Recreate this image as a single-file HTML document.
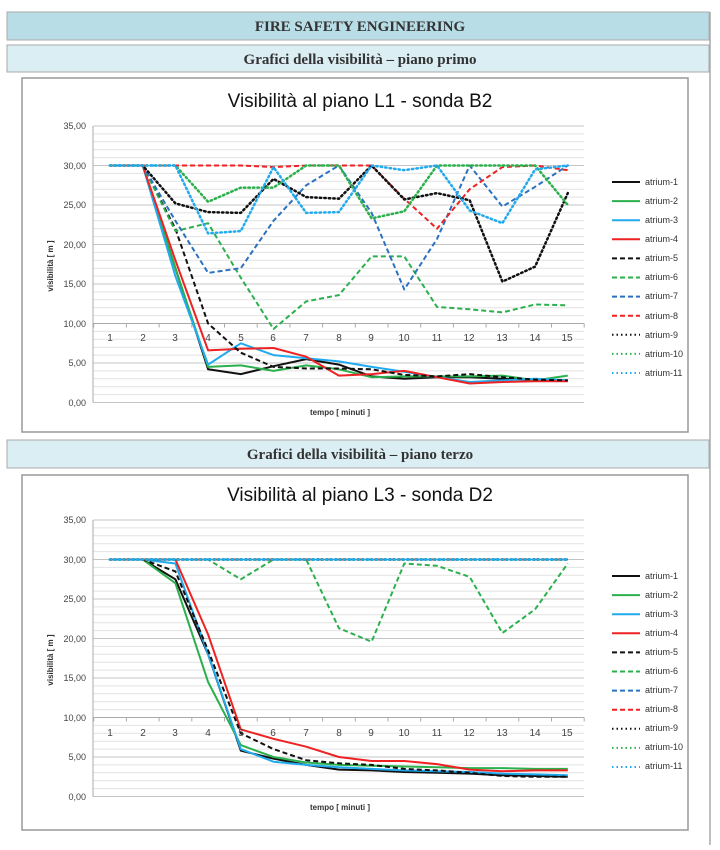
<!DOCTYPE html>
<html><head><meta charset="utf-8"><style>
body{margin:0;background:#fff;width:720px;height:845px;overflow:hidden}
svg text{font-family:"Liberation Sans",sans-serif}
</style></head><body>
<svg id="s" width="720" height="845" xmlns="http://www.w3.org/2000/svg">
<line x1="710" y1="12" x2="710" y2="845" stroke="#aaa" stroke-width="1.5"/>
<rect x="7" y="12" width="702" height="28" fill="#b8dde6" stroke="#aaa"/>
<text x="360" y="31" text-anchor="middle" font-family="Liberation Serif" font-weight="bold" font-size="15" fill="#333" style="font-family:'Liberation Serif',serif">FIRE SAFETY ENGINEERING</text>
<rect x="7" y="45" width="702" height="27" fill="#dbeef3" stroke="#aaa"/>
<text x="360" y="64" text-anchor="middle" font-weight="bold" font-size="15" fill="#333" style="font-family:'Liberation Serif',serif">Grafici della visibilità – piano primo</text>
<rect x="22" y="78" width="666" height="354" fill="#fff" stroke="#999" stroke-width="1.5"/>
<rect x="7" y="440" width="702" height="28" fill="#dbeef3" stroke="#aaa"/>
<text x="360" y="459" text-anchor="middle" font-weight="bold" font-size="15" fill="#333" style="font-family:'Liberation Serif',serif">Grafici della visibilità – piano terzo</text>
<rect x="22" y="475" width="666" height="355" fill="#fff" stroke="#999" stroke-width="1.5"/>
<text x="360" y="107" text-anchor="middle" font-size="19" fill="#111">Visibilità al piano L1 - sonda B2</text>
<text x="360" y="501" text-anchor="middle" font-size="19" fill="#111">Visibilità al piano L3 - sonda D2</text>
<g id="c1"></g><g id="c2"></g>
<g font-size="9" fill="#444" text-anchor="end">
<text x="86" y="129">35,00</text><text x="86" y="169">30,00</text><text x="86" y="208">25,00</text><text x="86" y="248">20,00</text><text x="86" y="287">15,00</text><text x="86" y="327">10,00</text><text x="86" y="366">5,00</text><text x="86" y="406">0,00</text>
<text x="86" y="523">35,00</text><text x="86" y="563">30,00</text><text x="86" y="602">25,00</text><text x="86" y="642">20,00</text><text x="86" y="681">15,00</text><text x="86" y="721">10,00</text><text x="86" y="760">5,00</text><text x="86" y="800">0,00</text>
</g>
<g font-size="10" fill="#444" text-anchor="middle">
<text x="110" y="341">1</text><text x="143" y="341">2</text><text x="175" y="341">3</text><text x="208" y="341">4</text><text x="241" y="341">5</text><text x="273" y="341">6</text><text x="306" y="341">7</text><text x="339" y="341">8</text><text x="371" y="341">9</text><text x="404" y="341">10</text><text x="437" y="341">11</text><text x="469" y="341">12</text><text x="502" y="341">13</text><text x="535" y="341">14</text><text x="567" y="341">15</text>
<text x="110" y="736">1</text><text x="143" y="736">2</text><text x="175" y="736">3</text><text x="208" y="736">4</text><text x="241" y="736">5</text><text x="273" y="736">6</text><text x="306" y="736">7</text><text x="339" y="736">8</text><text x="371" y="736">9</text><text x="404" y="736">10</text><text x="437" y="736">11</text><text x="469" y="736">12</text><text x="502" y="736">13</text><text x="535" y="736">14</text><text x="567" y="736">15</text>
</g>
<g font-size="8" font-weight="bold" fill="#333" text-anchor="middle">
<text x="340" y="415">tempo  [ minuti ]</text><text x="340" y="810">tempo  [ minuti ]</text>
</g>
<g font-size="8" font-weight="bold" fill="#333">
<text transform="translate(53,266) rotate(-90)" text-anchor="middle">visibilità  [ m ]</text>
<text transform="translate(53,660) rotate(-90)" text-anchor="middle">visibilità  [ m ]</text>
</g>
<g font-size="9" fill="#333">
<text x="645" y="185">atrium-1</text><text x="645" y="204">atrium-2</text><text x="645" y="223">atrium-3</text><text x="645" y="242">atrium-4</text><text x="645" y="261">atrium-5</text><text x="645" y="280">atrium-6</text><text x="645" y="299">atrium-7</text><text x="645" y="319">atrium-8</text><text x="645" y="338">atrium-9</text><text x="645" y="357">atrium-10</text><text x="645" y="376">atrium-11</text>
<text x="645" y="579">atrium-1</text><text x="645" y="598">atrium-2</text><text x="645" y="617">atrium-3</text><text x="645" y="636">atrium-4</text><text x="645" y="655">atrium-5</text><text x="645" y="674">atrium-6</text><text x="645" y="693">atrium-7</text><text x="645" y="712">atrium-8</text><text x="645" y="731">atrium-9</text><text x="645" y="750">atrium-10</text><text x="645" y="769">atrium-11</text>
</g>
</svg>
<script>
var NS="http://www.w3.org/2000/svg";
var st=[["#111",""],["#2bb04d",""],["#22aaee",""],["#ee2222",""],["#111","5,3"],["#2bb04d","5,3"],["#2a72c0","5,3"],["#ee2222","5,3"],["#111","1.5,3"],["#2bb04d","1.5,3"],["#22aaee","1.5,3"]];
var d1=[[30,30,17,4.2,3.6,4.6,5.5,4.8,3.3,3.0,3.2,3.2,3.0,2.8,2.8],[30,30,17,4.5,4.7,4.0,4.7,4.2,3.2,3.3,3.3,3.3,3.4,2.8,3.4],[30,30,16,4.8,7.5,6.0,5.6,5.2,4.5,3.9,3.2,2.6,2.8,3.0,2.8],[30,30,18,6.6,6.8,6.9,5.8,3.4,3.6,4.0,3.2,2.4,2.6,2.7,2.7],[30,30,22,10,6.3,4.5,4.3,4.3,4.2,3.5,3.3,3.6,3.2,2.9,2.8],[30,30,21.7,22.7,15.8,9.3,12.8,13.6,18.5,18.5,12.1,11.8,11.4,12.4,12.3],[30,30,23,16.4,17,23,27.5,30,24,14.3,20.7,30,24.8,27.3,30],[30,30,30,30,30,29.8,30,30,30,25.8,22,27,29.8,30,29.4],[30,30,25.2,24.1,24,28.3,26,25.8,30,25.7,26.5,25.6,15.3,17.2,26.5],[30,30,30,25.4,27.2,27.2,30,30,23.3,24.2,30,30,30,30,25],[30,30,30,21.4,21.7,29.8,24,24.1,30,29.4,30,24.3,22.7,29.5,30]];
var f=[30,30,30,30,30,30,30,30,30,30,30,30,30,30,30];
var d2=[[30,30,27.5,18,5.8,4.8,4.0,3.4,3.3,3.1,3.0,2.9,2.7,2.6,2.5],[30,30,27,14.5,6.5,5,4.3,4,3.9,3.8,3.7,3.6,3.6,3.5,3.5],[30,30,29.5,18,6,4.4,4.0,3.7,3.5,3.3,3.2,3.1,2.9,2.8,2.7],[30,30,30,20.5,8.5,7.3,6.3,5,4.5,4.5,4.1,3.4,3.2,3.3,3.3],[30,30,28.5,18.5,8,6,4.6,4.2,4.0,3.5,3.3,3.0,2.6,2.5,2.5],[30,30,30,30,27.5,30,30,21.3,19.6,29.5,29.2,27.8,20.7,23.7,29.5],f,f,f,f,f];
function el(g,n,a){var e=document.createElementNS(NS,n);for(var k in a)e.setAttribute(k,a[k]);g.appendChild(e);return e;}
function chart(id,y0,data,ly){var g=document.getElementById(id);var sc=7.9;
for(var v=0;v<=35;v++){var y=y0-v*sc;el(g,"line",{x1:93,x2:584,y1:y,y2:y,stroke:v%5==0?"#c4c4c4":"#e2e2e2","stroke-width":1});}
el(g,"line",{x1:93,x2:93,y1:y0-35*sc,y2:y0,stroke:"#aaa"});
var ya=y0-10*sc;el(g,"line",{x1:93,x2:584,y1:ya,y2:ya,stroke:"#aaa"});
for(var i=0;i<=15;i++){var x=93.7+i*32.7;el(g,"line",{x1:x,x2:x,y1:ya,y2:ya+4,stroke:"#aaa"});}
for(var s=0;s<11;s++){var p=data[s].map(function(v,i){return (110+i*32.7).toFixed(1)+","+(y0-v*sc).toFixed(1)}).join(" ");
var a={points:p,fill:"none",stroke:st[s][0],"stroke-width":2,"stroke-linejoin":"round"};if(st[s][1])a["stroke-dasharray"]=st[s][1];if(st[s][1]=="1.5,3")a["stroke-linecap"]="round",a["stroke-width"]=2.5;
el(g,"polyline",a);var yy=ly+s*19.1;var b={x1:612,x2:640,y1:yy,y2:yy,stroke:st[s][0],"stroke-width":2};if(st[s][1])b["stroke-dasharray"]=st[s][1];el(g,"line",b);}}
chart("c1",402.5,d1,182);chart("c2",796.5,d2,576);
</script>
</body></html>
